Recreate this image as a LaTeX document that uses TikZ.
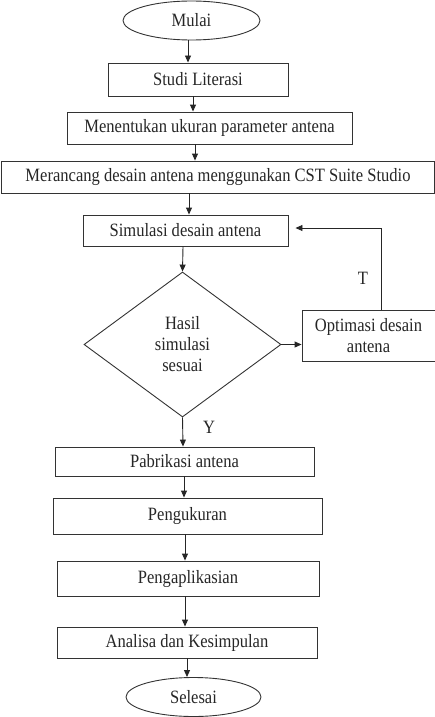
\documentclass[tikz,border=0pt]{standalone}
\usepackage{fontspec}
\setmainfont{Liberation Serif}[FakeStretch=0.88]
\usetikzlibrary{shapes.geometric,arrows.meta}
\begin{document}
\begin{tikzpicture}[x=1pt,y=-1pt,
  every node/.style={font=\fontsize{18.8}{21}\selectfont, text=black!85},
  box/.style={draw=black!80, line width=0.9pt, rectangle, inner sep=0pt, align=center},
  term/.style={draw=black!80, line width=0.9pt, ellipse, inner sep=0pt},
  decis/.style={draw=black!80, line width=0.9pt, diamond, inner sep=0pt, align=center},
  arr/.style={draw=black!85, line width=0.9pt, -{Triangle[length=7pt,width=6pt]}}]
\useasboundingbox (0,0) rectangle (435,717);
\node[term, minimum width=137pt, minimum height=39pt] (mulai) at (191.5,20.5) {Mulai};
\node[box, minimum width=180pt, minimum height=33pt] (studi) at (198,79.5) {Studi Literasi};
\node[box, minimum width=285pt, minimum height=32pt] (tentu) at (209.5,128) {Menentukan ukuran parameter antena};
\node[box, minimum width=433pt, minimum height=32pt] (rancang) at (218,177) {Merancang desain antena menggunakan CST Suite Studio};
\node[box, minimum width=205pt, minimum height=31pt] (sim) at (185.5,230.5) {Simulasi desain antena};
\node[decis, minimum width=197pt, minimum height=145pt, aspect=1.36] (dia) at (182.5,344.5) {Hasil\\simulasi\\sesuai};
\node[box, minimum width=133pt, minimum height=51pt] (opt) at (368.5,335.5) {Optimasi desain\\antena};
\node[box, minimum width=259pt, minimum height=29pt] (pab) at (184.5,461.5) {Pabrikasi antena};
\node[box, minimum width=269pt, minimum height=36pt] (ukur) at (187.5,516) {Pengukuran};
\node[box, minimum width=262pt, minimum height=35pt] (apl) at (188,578.5) {Pengaplikasian};
\node[box, minimum width=260pt, minimum height=31pt] (anal) at (187,642.5) {Analisa dan Kesimpulan};
\node[term, minimum width=135pt, minimum height=39pt] (selesai) at (193.5,697) {Selesai};
\node (tlab) at (363,278) {T};
\node (ylab) at (209,427) {Y};
\coordinate (x1) at (188,0);
\coordinate (x2) at (193,0);
\coordinate (x3) at (195,0);
\coordinate (x4) at (189,0);
\coordinate (x5) at (183,0);
\coordinate (x6) at (184,0);
\coordinate (x7) at (185,0);
\coordinate (x8) at (187,0);
\coordinate (lx) at (381,0);
\draw[arr] (mulai.south -| x1) -- (studi.north -| x1);
\draw[arr] (studi.south -| x2) -- (tentu.north -| x2);
\draw[arr] (tentu.south -| x3) -- (rancang.north -| x3);
\draw[arr] (rancang.south -| x4) -- (sim.north -| x4);
\draw[arr] (sim.south -| x5) -- (dia.north);
\draw[arr] (dia.east) -- (dia.east -| opt.west);
\draw[arr] (opt.north -| lx) |- ([xshift=7pt,yshift=2.5pt]sim.east);
\draw[arr] (dia.south) -- (pab.north -| x5);
\draw[arr] (pab.south -| x6) -- (ukur.north -| x6);
\draw[arr] (ukur.south -| x7) -- (apl.north -| x7);
\draw[arr] (apl.south -| x7) -- (anal.north -| x7);
\draw[arr] (anal.south -| x8) -- (selesai.north -| x8);
\end{tikzpicture}
\end{document}
